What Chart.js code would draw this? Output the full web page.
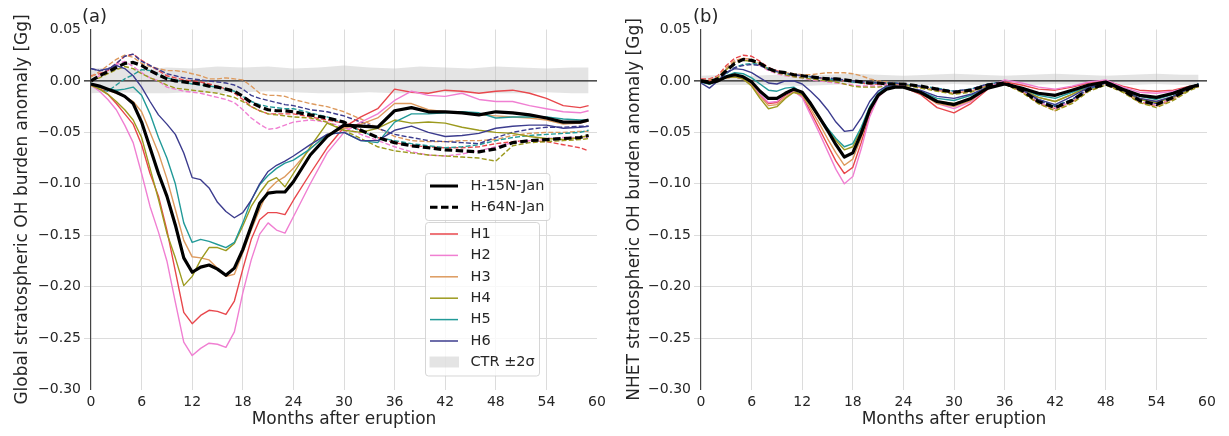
<!DOCTYPE html>
<html>
<head>
<meta charset="utf-8">
<script src="https://cdn.jsdelivr.net/npm/chart.js@4.4.1/dist/chart.umd.min.js"></script>
<style>
  html, body { margin: 0; padding: 0; background: #fff; }
  #wrap { position: relative; width: 1229px; height: 436px; overflow: hidden; }
  .panel { position: absolute; top: 0; height: 436px; }
  #pa { left: 0; width: 615px; }
  #pb { left: 615px; width: 614px; }
</style>
</head>
<body>
<div id="wrap">
  <div class="panel" id="pa"><canvas id="chartA" width="615" height="436"></canvas></div>
  <div class="panel" id="pb"><canvas id="chartB" width="614" height="436"></canvas></div>
</div>
<script>
// months sampled: monthly up to 24, then every 2 months
const months = [0,1,2,3,4,5,6,7,8,9,10,11,12,13,14,15,16,17,18,19,20,21,22,23,24,
  26,28,30,32,34,36,38,40,42,44,46,48,50,52,54,56,58,59];
const bandMonths = [0,3,6,9,12,15,18,21,24,27,30,33,36,39,42,45,48,51,54,57,59];
const xTicks = [0,6,12,18,24,30,36,42,48,54,60];
const yTicks = [-0.30,-0.25,-0.20,-0.15,-0.10,-0.05,0.00,0.05];

const seriesNames = ['H1','H2','H3','H4','H5','H6'];
const groupNames = ['H-15N-Jan','H-64N-Jan'];
const bandName = 'CTR \u00b12\u03c3';
const colors = ['#e8474c','#f07fd2','#dd9a5e','#9c9a1e','#229a98','#3c3c8e'];

// ---- panel (a): global ----
const aH15 = [
  [-0.003,-0.007,-0.013,-0.022,-0.032,-0.042,-0.062,-0.090,-0.112,-0.145,-0.185,-0.225,-0.236,-0.228,-0.223,-0.224,-0.227,-0.214,-0.183,-0.154,-0.135,-0.128,-0.128,-0.130,-0.116,
   -0.090,-0.065,-0.045,-0.035,-0.027,-0.008,-0.011,-0.012,-0.009,-0.010,-0.012,-0.010,-0.009,-0.012,-0.017,-0.024,-0.026,-0.024],
  [-0.004,-0.010,-0.018,-0.028,-0.043,-0.060,-0.090,-0.122,-0.147,-0.175,-0.215,-0.254,-0.267,-0.260,-0.255,-0.256,-0.259,-0.244,-0.206,-0.174,-0.149,-0.138,-0.145,-0.148,-0.132,
   -0.100,-0.070,-0.050,-0.040,-0.032,-0.019,-0.010,-0.014,-0.015,-0.012,-0.018,-0.020,-0.020,-0.024,-0.027,-0.030,-0.031,-0.029],
  [-0.005,-0.007,-0.009,-0.012,-0.015,-0.020,-0.030,-0.050,-0.070,-0.095,-0.125,-0.155,-0.171,-0.172,-0.174,-0.182,-0.190,-0.188,-0.167,-0.145,-0.125,-0.106,-0.098,-0.093,-0.085,
   -0.066,-0.052,-0.046,-0.042,-0.036,-0.022,-0.022,-0.028,-0.030,-0.030,-0.033,-0.034,-0.035,-0.036,-0.038,-0.042,-0.041,-0.039],
  [-0.004,-0.008,-0.013,-0.020,-0.028,-0.038,-0.055,-0.085,-0.115,-0.148,-0.172,-0.199,-0.190,-0.174,-0.162,-0.162,-0.165,-0.158,-0.141,-0.122,-0.109,-0.098,-0.094,-0.103,-0.090,
   -0.064,-0.041,-0.048,-0.050,-0.046,-0.038,-0.041,-0.040,-0.041,-0.045,-0.048,-0.050,-0.051,-0.054,-0.056,-0.057,-0.055,-0.053],
  [-0.003,-0.006,-0.008,-0.009,-0.008,-0.006,-0.014,-0.032,-0.055,-0.075,-0.100,-0.138,-0.157,-0.154,-0.156,-0.159,-0.162,-0.157,-0.138,-0.116,-0.101,-0.092,-0.085,-0.080,-0.077,
   -0.066,-0.052,-0.050,-0.058,-0.060,-0.040,-0.032,-0.032,-0.031,-0.030,-0.031,-0.036,-0.035,-0.035,-0.035,-0.037,-0.038,-0.038],
  [0.012,0.010,0.012,0.015,0.012,0.005,-0.006,-0.020,-0.033,-0.042,-0.052,-0.070,-0.094,-0.096,-0.104,-0.118,-0.127,-0.133,-0.128,-0.116,-0.100,-0.088,-0.082,-0.078,-0.073,
   -0.062,-0.052,-0.050,-0.058,-0.058,-0.048,-0.044,-0.050,-0.054,-0.053,-0.051,-0.046,-0.044,-0.043,-0.043,-0.046,-0.045,-0.044]
];
const aH64 = [
  [0.005,0.007,0.010,0.017,0.024,0.026,0.020,0.015,0.010,0.005,0.003,0.001,0.000,-0.001,-0.003,-0.005,-0.008,-0.012,-0.018,-0.025,-0.029,-0.032,-0.032,-0.032,-0.032,
   -0.035,-0.038,-0.041,-0.048,-0.055,-0.060,-0.063,-0.064,-0.065,-0.065,-0.064,-0.061,-0.059,-0.058,-0.059,-0.062,-0.065,-0.068],
  [0.000,0.005,0.011,0.016,0.019,0.014,0.008,0.003,0.000,-0.006,-0.008,-0.010,-0.011,-0.012,-0.014,-0.016,-0.018,-0.021,-0.028,-0.036,-0.042,-0.047,-0.046,-0.043,-0.040,
   -0.038,-0.040,-0.045,-0.052,-0.058,-0.064,-0.069,-0.072,-0.073,-0.071,-0.068,-0.064,-0.060,-0.058,-0.056,-0.055,-0.055,-0.054],
  [0.004,0.009,0.015,0.021,0.025,0.023,0.017,0.014,0.012,0.010,0.010,0.009,0.007,0.005,0.002,0.002,0.003,0.002,0.001,-0.005,-0.012,-0.014,-0.014,-0.015,-0.018,
   -0.022,-0.025,-0.030,-0.037,-0.046,-0.054,-0.058,-0.059,-0.059,-0.058,-0.058,-0.057,-0.053,-0.051,-0.050,-0.050,-0.049,-0.049],
  [0.000,0.003,0.007,0.011,0.014,0.012,0.007,0.003,0.000,-0.004,-0.007,-0.008,-0.009,-0.010,-0.011,-0.012,-0.014,-0.016,-0.020,-0.025,-0.029,-0.032,-0.033,-0.034,-0.035,
   -0.036,-0.040,-0.048,-0.056,-0.064,-0.068,-0.070,-0.072,-0.073,-0.074,-0.075,-0.078,-0.063,-0.060,-0.059,-0.058,-0.057,-0.056],
  [-0.002,-0.008,-0.010,-0.004,0.002,0.006,0.011,0.010,0.006,0.003,0.001,-0.001,-0.003,-0.004,-0.005,-0.006,-0.008,-0.010,-0.015,-0.020,-0.023,-0.025,-0.026,-0.027,-0.027,
   -0.031,-0.035,-0.041,-0.049,-0.055,-0.058,-0.061,-0.063,-0.065,-0.064,-0.062,-0.058,-0.055,-0.053,-0.052,-0.051,-0.050,-0.048],
  [0.012,0.010,0.011,0.017,0.024,0.026,0.019,0.015,0.011,0.007,0.005,0.003,0.002,0.001,0.000,-0.001,-0.002,-0.004,-0.008,-0.014,-0.017,-0.019,-0.021,-0.023,-0.024,
   -0.028,-0.030,-0.034,-0.040,-0.046,-0.052,-0.055,-0.058,-0.059,-0.060,-0.061,-0.055,-0.050,-0.047,-0.045,-0.045,-0.044,-0.044]
];
const aMean15 = [-0.003,-0.005,-0.008,-0.011,-0.015,-0.022,-0.040,-0.065,-0.090,-0.112,-0.140,-0.172,-0.186,-0.181,-0.179,-0.183,-0.189,-0.182,-0.164,-0.141,-0.119,-0.109,-0.108,-0.108,-0.098,
  -0.072,-0.054,-0.043,-0.044,-0.045,-0.029,-0.026,-0.030,-0.030,-0.031,-0.033,-0.030,-0.031,-0.033,-0.036,-0.040,-0.040,-0.038];
const aMean64 = [0.000,0.005,0.009,0.013,0.017,0.018,0.015,0.010,0.006,0.002,0.000,-0.001,-0.002,-0.003,-0.005,-0.006,-0.008,-0.010,-0.015,-0.021,-0.025,-0.028,-0.029,-0.029,-0.030,
  -0.033,-0.036,-0.040,-0.048,-0.055,-0.060,-0.063,-0.065,-0.067,-0.068,-0.069,-0.066,-0.060,-0.058,-0.057,-0.056,-0.055,-0.053];
const aCtrUpper = [0.012,0.013,0.011,0.013,0.012,0.014,0.013,0.014,0.012,0.013,0.015,0.013,0.012,0.014,0.013,0.012,0.014,0.013,0.012,0.013,0.013];
const aCtrLower = [-0.012,-0.011,-0.012,-0.012,-0.011,-0.012,-0.011,-0.010,-0.011,-0.012,-0.012,-0.011,-0.012,-0.012,-0.011,-0.012,-0.012,-0.012,-0.011,-0.012,-0.012];

// ---- panel (b): NHET ----
const bH15 = [
  [0.001,0.000,0.001,0.003,0.004,0.002,-0.004,-0.014,-0.022,-0.021,-0.014,-0.010,-0.015,-0.030,-0.046,-0.062,-0.078,-0.090,-0.084,-0.060,-0.032,-0.015,-0.008,-0.006,-0.006,
   -0.013,-0.026,-0.031,-0.022,-0.008,-0.001,-0.004,-0.008,-0.009,-0.006,-0.002,0.000,-0.005,-0.009,-0.010,-0.009,-0.005,-0.004],
  [0.000,-0.001,0.001,0.003,0.004,0.002,-0.004,-0.013,-0.021,-0.020,-0.013,-0.010,-0.016,-0.033,-0.050,-0.068,-0.086,-0.100,-0.093,-0.066,-0.035,-0.016,-0.008,-0.005,-0.005,
   -0.011,-0.022,-0.027,-0.020,-0.007,0.001,-0.002,-0.006,-0.008,-0.005,-0.001,0.001,-0.006,-0.011,-0.012,-0.010,-0.006,-0.004],
  [0.000,-0.001,0.001,0.003,0.004,0.002,-0.004,-0.015,-0.024,-0.023,-0.016,-0.011,-0.014,-0.027,-0.041,-0.056,-0.070,-0.082,-0.076,-0.055,-0.030,-0.015,-0.008,-0.005,-0.006,
   -0.012,-0.022,-0.025,-0.019,-0.007,-0.003,-0.008,-0.016,-0.020,-0.013,-0.005,-0.002,-0.009,-0.017,-0.020,-0.015,-0.007,-0.005],
  [0.000,-0.001,0.001,0.003,0.004,0.002,-0.005,-0.017,-0.027,-0.025,-0.017,-0.011,-0.013,-0.024,-0.036,-0.047,-0.058,-0.067,-0.064,-0.047,-0.026,-0.013,-0.007,-0.005,-0.006,
   -0.011,-0.020,-0.022,-0.017,-0.007,-0.003,-0.008,-0.016,-0.020,-0.013,-0.005,-0.002,-0.010,-0.018,-0.021,-0.016,-0.008,-0.005],
  [-0.001,-0.003,0.000,0.005,0.008,0.007,0.003,-0.003,-0.009,-0.010,-0.007,-0.006,-0.012,-0.023,-0.035,-0.046,-0.056,-0.064,-0.061,-0.045,-0.025,-0.012,-0.006,-0.005,-0.006,
   -0.010,-0.017,-0.019,-0.014,-0.006,-0.003,-0.007,-0.014,-0.017,-0.011,-0.005,-0.002,-0.008,-0.015,-0.018,-0.013,-0.006,-0.003],
  [-0.002,-0.007,0.000,0.008,0.012,0.011,0.008,0.003,-0.002,-0.003,0.000,0.000,-0.003,-0.010,-0.018,-0.028,-0.040,-0.049,-0.048,-0.036,-0.020,-0.010,-0.005,-0.005,-0.006,
   -0.009,-0.015,-0.017,-0.013,-0.006,-0.003,-0.008,-0.018,-0.023,-0.015,-0.006,-0.002,-0.009,-0.017,-0.020,-0.015,-0.007,-0.004]
];
const bH64 = [
  [0.002,0.002,0.005,0.015,0.022,0.025,0.024,0.019,0.013,0.010,0.008,0.006,0.005,0.004,0.003,0.002,0.001,0.000,-0.001,-0.002,-0.003,-0.003,-0.003,-0.003,-0.003,
   -0.006,-0.009,-0.012,-0.010,-0.004,-0.002,-0.010,-0.021,-0.027,-0.020,-0.009,-0.003,-0.010,-0.020,-0.024,-0.017,-0.008,-0.005],
  [0.001,0.001,0.004,0.012,0.019,0.021,0.019,0.015,0.010,0.007,0.005,0.004,0.003,0.001,0.000,-0.001,-0.002,-0.003,-0.004,-0.005,-0.005,-0.005,-0.004,-0.003,-0.003,
   -0.006,-0.009,-0.012,-0.010,-0.004,-0.001,-0.009,-0.021,-0.027,-0.020,-0.008,-0.002,-0.009,-0.020,-0.024,-0.017,-0.008,-0.005],
  [0.001,0.001,0.004,0.013,0.020,0.022,0.021,0.017,0.012,0.009,0.008,0.007,0.006,0.006,0.007,0.008,0.008,0.008,0.007,0.005,0.002,0.000,-0.001,-0.002,-0.003,
   -0.006,-0.009,-0.012,-0.010,-0.005,-0.003,-0.010,-0.022,-0.029,-0.021,-0.009,-0.003,-0.010,-0.021,-0.025,-0.018,-0.008,-0.005],
  [0.000,0.000,0.003,0.011,0.018,0.020,0.019,0.016,0.011,0.008,0.006,0.004,0.003,0.002,0.001,0.000,-0.001,-0.003,-0.005,-0.006,-0.006,-0.006,-0.005,-0.004,-0.004,
   -0.007,-0.010,-0.013,-0.011,-0.005,-0.003,-0.011,-0.022,-0.029,-0.022,-0.010,-0.004,-0.011,-0.021,-0.026,-0.019,-0.009,-0.006],
  [-0.001,-0.003,0.000,0.007,0.013,0.016,0.017,0.016,0.012,0.009,0.007,0.006,0.005,0.004,0.003,0.002,0.001,0.000,-0.001,-0.002,-0.002,-0.002,-0.002,-0.002,-0.003,
   -0.005,-0.007,-0.010,-0.008,-0.003,-0.001,-0.008,-0.018,-0.024,-0.018,-0.008,-0.002,-0.008,-0.017,-0.021,-0.015,-0.006,-0.003],
  [-0.001,-0.002,0.001,0.008,0.013,0.015,0.016,0.015,0.011,0.009,0.007,0.006,0.005,0.004,0.003,0.003,0.002,0.001,0.000,-0.001,-0.001,-0.002,-0.002,-0.002,-0.003,
   -0.005,-0.008,-0.010,-0.008,-0.003,-0.001,-0.008,-0.019,-0.025,-0.018,-0.007,-0.002,-0.008,-0.018,-0.022,-0.015,-0.006,-0.003]
];
const bMean15 = [0.000,-0.002,0.000,0.004,0.006,0.004,-0.001,-0.010,-0.017,-0.017,-0.012,-0.008,-0.011,-0.022,-0.035,-0.048,-0.062,-0.074,-0.070,-0.051,-0.028,-0.014,-0.008,-0.006,-0.006,
  -0.011,-0.020,-0.023,-0.017,-0.007,-0.003,-0.007,-0.012,-0.014,-0.009,-0.004,-0.001,-0.008,-0.014,-0.016,-0.012,-0.006,-0.004];
const bMean64 = [0.000,-0.001,0.002,0.010,0.017,0.021,0.020,0.017,0.012,0.009,0.008,0.006,0.005,0.004,0.003,0.002,0.002,0.001,0.000,-0.001,-0.002,-0.002,-0.003,-0.003,-0.003,
  -0.005,-0.008,-0.011,-0.009,-0.004,-0.002,-0.009,-0.020,-0.026,-0.019,-0.008,-0.003,-0.009,-0.019,-0.023,-0.016,-0.007,-0.004];
const bCtrUpper = [0.005,0.006,0.005,0.006,0.005,0.006,0.007,0.006,0.005,0.006,0.007,0.006,0.005,0.006,0.007,0.006,0.005,0.006,0.007,0.006,0.006];
const bCtrLower = [-0.004,-0.004,-0.004,-0.004,-0.005,-0.004,-0.003,-0.004,-0.004,-0.004,-0.003,-0.004,-0.004,-0.004,-0.003,-0.004,-0.004,-0.004,-0.003,-0.004,-0.004];

const textColor = '#262626';
const gridColor = '#dcdcdc';
const bandColor = 'rgba(190,190,190,0.42)';
const dashColored = [5, 2.2];
const dashBlack = [7.5, 3.5];

Chart.defaults.font.family = '"DejaVu Sans", sans-serif';

const pts = (xs, ys) => xs.map((x, i) => ({ x: x, y: ys[i] }));

function buildDatasets(h15, h64, mean15, mean64, upper, lower) {
  const ds = [];
  ds.push({ data: pts(bandMonths, upper), borderWidth: 0, borderColor: 'rgba(0,0,0,0)', backgroundColor: bandColor, fill: '+1' });
  ds.push({ data: pts(bandMonths, lower), borderWidth: 0, borderColor: 'rgba(0,0,0,0)', backgroundColor: bandColor, fill: false });
  h64.forEach((d, i) => ds.push({ data: pts(months, d), borderColor: colors[i], borderWidth: 1.4, borderDash: dashColored, fill: false }));
  h15.forEach((d, i) => ds.push({ data: pts(months, d), borderColor: colors[i], borderWidth: 1.4, fill: false }));
  ds.push({ data: pts(months, mean64), borderColor: '#000', borderWidth: 3.2, borderDash: dashBlack, fill: false });
  ds.push({ data: pts(months, mean15), borderColor: '#000', borderWidth: 3.2, fill: false });
  ds.forEach((d, i) => {
    d.order = -i;
    d.pointRadius = 0;
    d.tension = 0;
    d.borderJoinStyle = 'round';
  });
  return ds;
}

const fmtY = v => (Math.abs(v) < 1e-9 ? '0.00' : v.toFixed(2)).replace('-', '\u2212');

// zero line, drawn over the CTR band but under the runs
const zeroLine = {
  id: 'zeroLine',
  beforeDatasetsDraw(chart) {
    const { ctx, chartArea } = chart;
    const y = chart.scales.y.getPixelForValue(0);
    ctx.save();
    ctx.strokeStyle = '#222';
    ctx.lineWidth = 1.2;
    ctx.beginPath();
    ctx.moveTo(chartArea.left - 7, y);
    ctx.lineTo(chartArea.right, y);
    ctx.stroke();
    ctx.restore();
  }
};

// panel letter, drawn above the plot
const panelLabel = {
  id: 'panelLabel',
  afterDraw(chart, args, opts) {
    const ctx = chart.ctx;
    ctx.save();
    ctx.font = '18px "DejaVu Sans"';
    ctx.fillStyle = textColor;
    ctx.textBaseline = 'middle';
    ctx.fillText(opts.text, opts.x, 17);
    ctx.restore();
  }
};

// two framed legend boxes inside panel (a)
const boxLegend = {
  id: 'boxLegend',
  afterDraw(chart, args, opts) {
    if (!opts.show) return;
    const ctx = chart.ctx;
    const frame = (x, y, w, h) => {
      ctx.beginPath();
      ctx.roundRect(x, y, w, h, 3);
      ctx.fillStyle = 'rgba(255,255,255,0.8)';
      ctx.fill();
      ctx.strokeStyle = 'rgba(204,204,204,0.8)';
      ctx.lineWidth = 1;
      ctx.stroke();
    };
    const row = (y, label, color, width, dash) => {
      ctx.beginPath();
      ctx.setLineDash(dash);
      ctx.strokeStyle = color;
      ctx.lineWidth = width;
      ctx.moveTo(430, y);
      ctx.lineTo(458, y);
      ctx.stroke();
      ctx.setLineDash([]);
      ctx.fillStyle = textColor;
      ctx.fillText(label, 470.5, y);
    };
    ctx.save();
    ctx.font = '14.5px "DejaVu Sans"';
    ctx.textBaseline = 'middle';
    frame(425.5, 173.5, 124.5, 47);
    row(186, groupNames[0], '#000', 3, []);
    row(207.3, groupNames[1], '#000', 3, dashBlack);
    frame(425.5, 222.5, 114, 153.5);
    seriesNames.forEach((n, i) => row(234 + i * 21.4, n, colors[i], 1.5, []));
    ctx.fillStyle = bandColor;
    ctx.fillRect(429.5, 356.5, 29.5, 11);
    ctx.fillStyle = textColor;
    ctx.fillText(bandName, 470.5, 362);
    ctx.restore();
  }
};

function makeChart(id, cfg) {
  return new Chart(document.getElementById(id), {
    type: 'line',
    data: { datasets: cfg.datasets },
    options: {
      responsive: false,
      animation: false,
      devicePixelRatio: 1,
      layout: { padding: { top: 29.5, right: cfg.padRight, left: 0, bottom: 0 } },
      plugins: {
        legend: { display: false },
        tooltip: { enabled: false },
        filler: { drawTime: 'beforeDatasetsDraw' },
        panelLabel: { text: cfg.letter, x: cfg.letterX },
        boxLegend: { show: cfg.legend }
      },
      scales: {
        x: {
          type: 'linear', min: 0, max: 60,
          afterFit: s => { s.height = 46.5; },
          afterBuildTicks: s => { s.ticks = xTicks.map(v => ({ value: v })); },
          ticks: { autoSkip: false, maxRotation: 0, padding: 4, color: textColor, font: { size: 14 } },
          grid: {
            drawTicks: false,
            color: c => (c.tick.value === 0 || c.tick.value === 60) ? 'rgba(0,0,0,0)' : gridColor,
            lineWidth: 1
          },
          border: { display: false },
          title: { display: true, text: 'Months after eruption', color: textColor, font: { size: 17 }, padding: { top: 0, bottom: 6 } }
        },
        y: {
          min: -0.30, max: 0.05,
          afterFit: s => { s.width = cfg.axisWidth; },
          afterBuildTicks: s => { s.ticks = yTicks.map(v => ({ value: v })); },
          ticks: { callback: fmtY, padding: 3, color: textColor, font: { size: 14 } },
          grid: {
            tickLength: 7,
            color: c => {
              const v = c.tick.value;
              if (Math.abs(v - 0.05) < 1e-9 || Math.abs(v + 0.30) < 1e-9) return 'rgba(0,0,0,0)';
              return gridColor;
            },
            lineWidth: 1
          },
          border: { display: true, color: '#444', width: 1.2 },
          title: { display: true, text: cfg.yTitle, color: textColor, font: { size: 17 }, padding: { top: cfg.titlePad, bottom: 0 } }
        }
      }
    },
    plugins: [zeroLine, panelLabel, boxLegend]
  });
}

makeChart('chartA', {
  datasets: buildDatasets(aH15, aH64, aMean15, aMean64, aCtrUpper, aCtrLower),
  yTitle: 'Global stratospheric OH burden anomaly [Gg]',
  axisWidth: 91, padRight: 18, titlePad: 12, letter: '(a)', letterX: 82, legend: true
});
makeChart('chartB', {
  datasets: buildDatasets(bH15, bH64, bMean15, bMean64, bCtrUpper, bCtrLower),
  yTitle: 'NHET stratospheric OH burden anomaly [Gg]',
  axisWidth: 86, padRight: 22, titlePad: 9, letter: '(b)', letterX: 78, legend: false
});
</script>
</body>
</html>
